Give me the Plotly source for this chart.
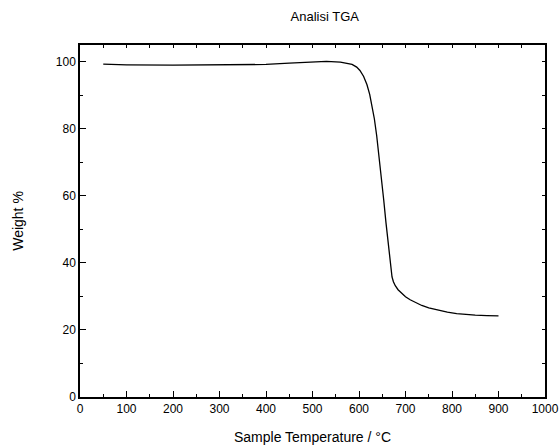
import plotly.graph_objects as go

temperature = [50, 100, 200, 300, 400, 450, 500, 530, 560, 575, 585, 595, 602, 610, 617, 623, 628, 633, 638, 643,
               648, 653, 658, 663, 668, 671, 674, 678, 684, 692, 700, 710, 720, 735, 750, 770, 790, 810, 830, 850,
               875, 900]
weight = [99.3, 99.1, 99.0, 99.0, 99.2, 99.6, 100.0, 100.1, 99.9, 99.6, 99.2, 98.4, 97.4, 95.6, 93.2, 90.3, 87.0, 83.0, 78.0, 72.0,
          66.0, 59.0, 52.0, 45.5, 39.5, 35.8, 34.4, 33.2, 32.0, 30.8, 29.9, 29.0, 28.3, 27.3, 26.6, 25.9, 25.3, 24.9, 24.6, 24.4,
          24.3, 24.2]

title = "Analisi TGA"
x_title = "Sample Temperature / °C"
y_title = "Weight %"

font = dict(family="Liberation Sans, Arial, sans-serif", color="black")

fig = go.Figure()
fig.add_trace(go.Scatter(x=temperature, y=weight, mode="lines",
                         line=dict(color="black", width=1.3, shape="linear"),
                         showlegend=False))
fig.add_trace(go.Scatter(x=[None], y=[None], xaxis="x2", yaxis="y2", showlegend=False))

fig.update_layout(
    width=560, height=446,
    margin=dict(l=80, r=15, t=45, b=49),
    paper_bgcolor="white", plot_bgcolor="white",
    title=dict(text=title, x=0.58, xanchor="center", y=0.962, yanchor="middle",
               font=dict(size=13, **font)),
    font=dict(size=12, **font),
    xaxis=dict(range=[0, 1000], tickvals=list(range(0, 1001, 100)), showgrid=False, zeroline=False,
               showline=True, linecolor="black", linewidth=1.5, ticks="inside", ticklen=6,
               tickcolor="black", tickwidth=1, automargin=False,
               minor=dict(tickvals=list(range(50, 1000, 100)), ticks="inside", ticklen=3, tickcolor="black"),
               title=dict(text=x_title, font=dict(size=14, **font), standoff=17),
               tickfont=dict(size=12, **font)),
    yaxis=dict(range=[0, 105], tickvals=list(range(0, 101, 20)), showgrid=False, zeroline=False,
               showline=True, linecolor="black", linewidth=1.5, ticks="inside", ticklen=6,
               tickcolor="black", tickwidth=1, automargin=False,
               minor=dict(tickvals=list(range(10, 101, 20)), ticks="inside", ticklen=3, tickcolor="black"),
               title=dict(text=y_title, font=dict(size=14, **font), standoff=29),
               tickfont=dict(size=12, **font)),
    xaxis2=dict(overlaying="x", side="top", range=[0, 1000], tickvals=list(range(0, 1001, 50)),
                showticklabels=False, ticks="inside", ticklen=3, tickcolor="black", showgrid=False,
                zeroline=False, showline=True, linecolor="black", linewidth=1.5, automargin=False),
    yaxis2=dict(overlaying="y", side="right", range=[0, 105], tickvals=list(range(0, 101, 10)),
                showticklabels=False, ticks="inside", ticklen=3, tickcolor="black", showgrid=False,
                zeroline=False, showline=True, linecolor="black", linewidth=1.5, automargin=False),
)

fig.write_html("out.html")
